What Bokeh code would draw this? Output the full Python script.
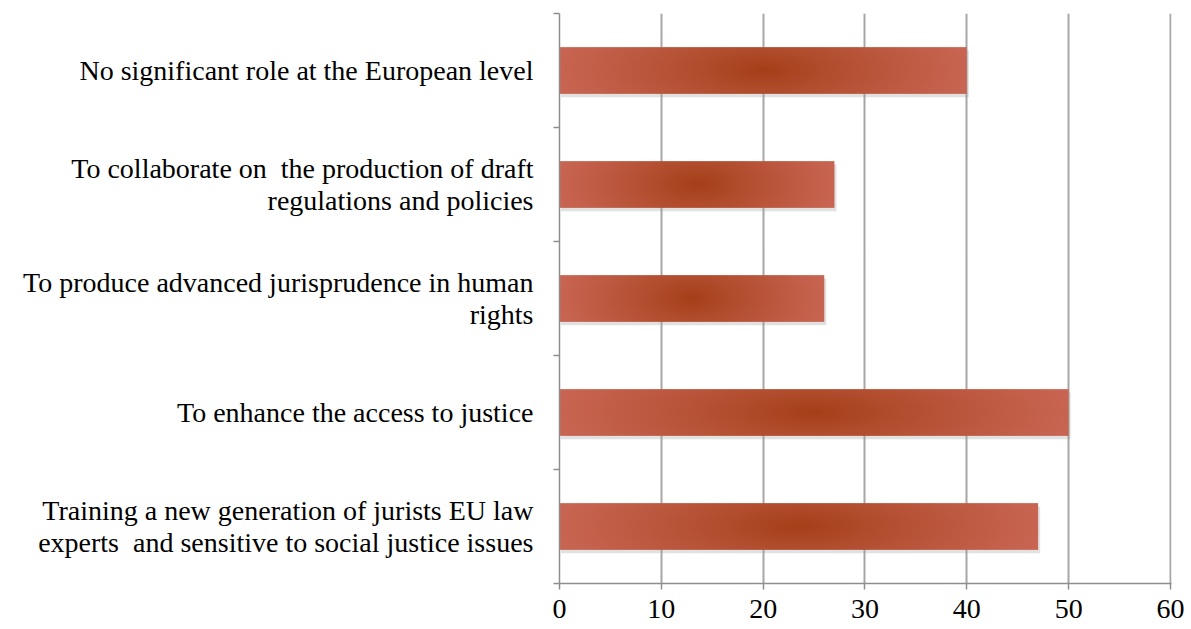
import numpy as np
from bokeh.plotting import figure
from bokeh.models import FixedTicker, Range1d
from bokeh.embed import file_html
from bokeh.resources import INLINE

categories = [
    "Training a new generation of jurists EU law\nexperts\u00a0 and sensitive to social justice issues",
    "To enhance the access to justice",
    "To produce advanced jurisprudence in human\nrights",
    "To collaborate on\u00a0 the production of draft\nregulations and policies",
    "No significant role at the European level",
]
values = [47, 50, 26, 27, 40]
x_ticks = [0, 10, 20, 30, 40, 50, 60]

FONT = "Liberation Serif"
BAR_H = 0.41
edge_rgb = np.array([200, 101, 82], dtype=float)
center_rgb = np.array([165, 63, 25], dtype=float)

p = figure(
    width=1191, height=629,
    frame_width=612, frame_height=570,
    min_border_left=559, min_border_right=20, min_border_top=13, min_border_bottom=46,
    x_range=Range1d(0, 60.1), y_range=Range1d(0, 5),
    output_backend="svg", toolbar_location=None,
)
p.outline_line_color = None
p.background_fill_color = "white"
p.border_fill_color = "white"

ypos = [i + 0.5 for i in range(len(categories))]

# shadows
p.quad(left=[0.15] * len(values), right=[v + 0.2 for v in values],
       bottom=[y - BAR_H / 2 - 0.03 for y in ypos], top=[y + BAR_H / 2 - 0.03 for y in ypos],
       fill_color="#9a9a9a", fill_alpha=0.3, line_color=None)

# gradient bars
for v, y in zip(values, ypos):
    W, H = 400, 60
    xs = (np.arange(W) + 0.5) / W * 2 - 1
    ys = (np.arange(H) + 0.5) / H * 2 - 1
    X, Y = np.meshgrid(xs, ys)
    r = np.clip(np.sqrt(X ** 2 + (Y * 0.35) ** 2), 0, 1)
    t = (r ** 0.9)[..., None]
    col = center_rgb * (1 - t) + edge_rgb * t
    img = np.empty((H, W, 4), dtype=np.uint8)
    img[..., :3] = col.astype(np.uint8)
    img[..., 3] = 255
    p.image_rgba(image=[img.view(dtype=np.uint32).reshape(H, W)],
                 x=0, y=y - BAR_H / 2, dw=v, dh=BAR_H)

# x axis
p.xaxis.ticker = FixedTicker(ticks=x_ticks)
p.xaxis.major_tick_out = 6
p.xaxis.major_tick_in = 0
p.xaxis.minor_tick_out = 0
p.xaxis.axis_line_color = "#8e8e8e"
p.xaxis.axis_line_width = 1.5
p.xaxis.major_tick_line_color = "#8e8e8e"
p.xaxis.major_tick_line_width = 1.5
p.xaxis.major_label_text_font = FONT
p.xaxis.major_label_text_font_size = "28px"
p.xaxis.major_label_text_color = "black"
p.xaxis.major_label_standoff = 10

# y axis
p.yaxis.ticker = FixedTicker(ticks=ypos, minor_ticks=list(range(len(categories) + 1)))
p.yaxis.major_label_overrides = {y: c for y, c in zip(ypos, categories)}
p.yaxis.major_tick_out = 0
p.yaxis.major_tick_in = 0
p.yaxis.minor_tick_out = 6
p.yaxis.minor_tick_in = 0
p.yaxis.minor_tick_line_color = "#8e8e8e"
p.yaxis.minor_tick_line_width = 1.5
p.yaxis.axis_line_color = "#8e8e8e"
p.yaxis.axis_line_width = 1.5
p.yaxis.major_label_text_font = FONT
p.yaxis.major_label_text_font_size = "28px"
p.yaxis.major_label_text_color = "black"
p.yaxis.major_label_text_align = "right"
p.yaxis.major_label_text_line_height = 1.05
p.yaxis.major_label_standoff = 20

# grid
p.xgrid.ticker = FixedTicker(ticks=x_ticks[1:])
p.xgrid.grid_line_color = "#a6a6a6"
p.xgrid.grid_line_width = 2
p.ygrid.grid_line_color = None

open("out.html", "w").write(file_html(p, INLINE))
